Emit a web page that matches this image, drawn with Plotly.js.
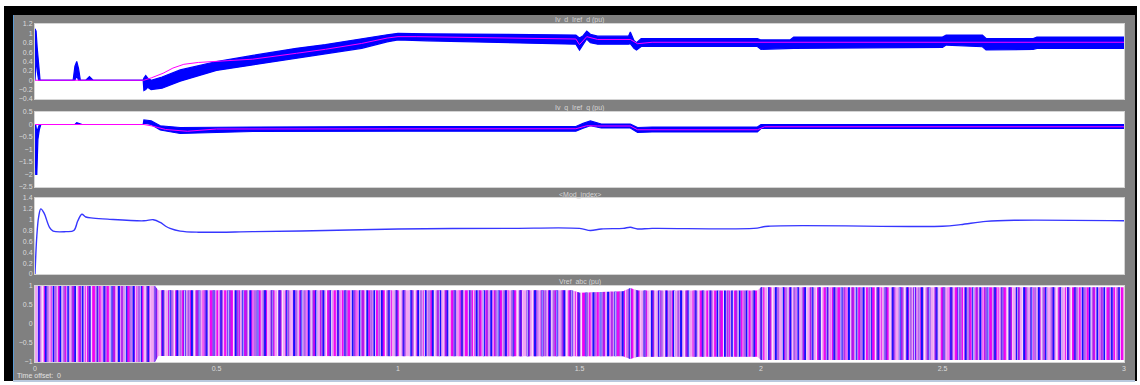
<!DOCTYPE html>
<html>
<head>
<meta charset="utf-8">
<script src="https://cdn.plot.ly/plotly-3.0.1.min.js"></script>
<style>
  html, body { margin:0; padding:0; background:#ffffff; width:1140px; height:385px; overflow:hidden; }
  #frame { position:absolute; left:4px; top:6px; width:1133px; height:375px; background:#000000; }
  #edge { position:absolute; left:13px; top:15px; width:1px; height:366px; background:#5b9bd5; }
  #bottomline { position:absolute; left:13px; top:380px; width:1122px; height:2px; background:#b9c9de; }
  #chart { position:absolute; left:14px; top:15px; width:1121px; height:365px; }
</style>
</head>
<body>
<div id="frame"></div>
<div id="edge"></div>
<div id="chart"></div>
<div id="bottomline"></div>
<script>
// ---- Panel titles ----
const panelTitles = ["Iv_d  Iref_d (pu)", "Iv_q  Iref_q (pu)", "<Mod_index>", "Vref_abc (pu)"];
const timeTicks = [0, 0.5, 1, 1.5, 2, 2.5, 3];
const timeTickLabels = ["0", "0.5", "1", "1.5", "2", "2.5", "3"];

// ---- Panel 1: Iv_d (blue band envelope) and Iref_d (magenta) ----
const ivdTime = [0, 0.003, 0.006, 0.01, 0.014, 0.105, 0.11, 0.115, 0.12, 0.125, 0.14, 0.15, 0.16, 0.298, 0.30, 0.305, 0.31, 0.32, 0.35, 0.4, 0.5, 0.6, 0.72, 0.8, 0.9, 0.97, 1.0, 1.08, 1.3, 1.49, 1.50, 1.51, 1.52, 1.53, 1.55, 1.635, 1.64, 1.65, 1.657, 1.67, 1.99, 2.0, 2.08, 2.09, 2.5, 2.51, 2.61, 2.62, 2.75, 2.76, 3.0];
const ivdHigh = [1.1, 1.05, 0.7, 0.3, 0, 0, 0.3, 0.4, 0.25, 0, 0, 0.08, 0, 0, 0.05, 0.1, 0.05, 0.0, 0.07, 0.22, 0.40, 0.53, 0.68, 0.76, 0.89, 0.97, 1.0, 0.99, 0.98, 0.965, 0.9, 0.95, 1.05, 0.98, 0.94, 0.94, 1.03, 0.85, 0.8, 0.89, 0.89, 0.86, 0.86, 0.92, 0.92, 0.965, 0.965, 0.89, 0.89, 0.92, 0.92];
const ivdLow  = [0, 0.5, 0.2, 0, 0, 0, 0, 0.1, 0, 0, 0, 0, 0, 0, -0.22, -0.2, -0.15, -0.2, -0.17, -0.02, 0.21, 0.33, 0.47, 0.56, 0.68, 0.82, 0.86, 0.84, 0.80, 0.77, 0.645, 0.75, 0.88, 0.8, 0.77, 0.77, 0.78, 0.68, 0.645, 0.72, 0.72, 0.66, 0.68, 0.68, 0.70, 0.75, 0.715, 0.645, 0.66, 0.68, 0.68];
const irefdTime = [0, 0.3, 0.32, 0.353, 0.38, 0.41, 0.45, 0.5, 0.6, 0.72, 0.8, 0.9, 0.97, 1.0, 1.05, 1.49, 1.5, 1.52, 1.55, 1.64, 1.66, 1.7, 3.0];
const irefd     = [0, 0, 0.05, 0.15, 0.26, 0.34, 0.38, 0.40, 0.45, 0.575, 0.66, 0.785, 0.9, 0.93, 0.93, 0.88, 0.76, 0.93, 0.87, 0.87, 0.78, 0.81, 0.81];

// ---- Panel 2: Iv_q (blue band envelope) and Iref_q (magenta) ----
const ivqTime = [0, 0.002, 0.005, 0.008, 0.012, 0.016, 0.11, 0.115, 0.125, 0.13, 0.298, 0.30, 0.32, 0.345, 0.4, 0.45, 0.6, 1.0, 1.49, 1.51, 1.53, 1.56, 1.64, 1.66, 1.7, 1.99, 2.0, 3.0];
const ivqHigh = [0, 0, -0.3, -0.2, 0, 0, 0, 0.07, 0.04, 0, 0, 0.18, 0.15, -0.05, -0.12, -0.12, -0.1, -0.08, -0.08, 0.05, 0.14, 0.02, 0.02, -0.12, -0.1, -0.1, 0, 0];
const ivqLow  = [0, -2.0, -2.0, -0.6, -0.2, 0, 0, 0, -0.02, 0, 0, 0.05, 0.0, -0.22, -0.36, -0.34, -0.28, -0.27, -0.27, -0.15, -0.05, -0.14, -0.14, -0.32, -0.3, -0.3, -0.16, -0.16];
const irefqTime = [0, 0.3, 0.32, 0.36, 0.42, 0.5, 1.49, 1.52, 1.55, 1.64, 1.66, 1.99, 2.01, 3.0];
const irefq     = [0, 0, -0.05, -0.2, -0.27, -0.18, -0.17, -0.05, -0.06, -0.06, -0.21, -0.21, -0.09, -0.09];

// ---- Panel 3: modulation index ----
const modTime  = [0, 0.005, 0.01, 0.016, 0.025, 0.04, 0.05, 0.085, 0.107, 0.118, 0.129, 0.14, 0.16, 0.2, 0.3, 0.326, 0.345, 0.36, 0.372, 0.4, 0.45, 0.6, 0.8, 1.0, 1.3, 1.5, 1.53, 1.56, 1.62, 1.64, 1.66, 1.7, 1.98, 2.02, 2.5, 2.55, 2.62, 2.7, 3.0];
const modIndex = [0, 0.7, 1.05, 1.2, 1.12, 0.86, 0.79, 0.78, 0.8, 0.98, 1.10, 1.05, 1.03, 1.01, 0.98, 1.0, 0.95, 0.88, 0.84, 0.79, 0.77, 0.78, 0.80, 0.83, 0.84, 0.84, 0.80, 0.83, 0.84, 0.86, 0.83, 0.84, 0.84, 0.88, 0.88, 0.91, 0.97, 0.99, 0.98];

// ---- Panel 4: Vref_abc envelope ----
const vrefTime = [0, 0.33, 0.34, 1.0, 1.48, 1.5, 1.55, 1.62, 1.64, 1.66, 1.99, 2.0, 3.0];
const vrefHigh = [1.0, 1.0, 0.89, 0.89, 0.89, 0.82, 0.83, 0.86, 0.95, 0.88, 0.88, 0.97, 0.97];
const vrefLow  = [-1.0, -1.0, -0.84, -0.85, -0.85, -0.84, -0.85, -0.85, -0.92, -0.86, -0.86, -0.95, -0.95];

const BLUE = '#0000ff', MAG = '#ff00ff';

function band(t, hi, lo, xa, ya, color, lineW, fillcolor, pattern) {
  const up = { x: t, y: hi, xaxis: xa, yaxis: ya, mode: 'lines', line: { color: color, width: lineW }, hoverinfo: 'skip', showlegend: false };
  const dn = { x: t, y: lo, xaxis: xa, yaxis: ya, mode: 'lines', line: { color: color, width: lineW }, fill: 'tonexty', fillcolor: fillcolor, hoverinfo: 'skip', showlegend: false };
  if (pattern) dn.fillpattern = pattern;
  return [up, dn];
}

const data = [
  ...band(ivdTime, ivdHigh, ivdLow, 'x', 'y', BLUE, 1.2, BLUE),
  { x: irefdTime, y: irefd, xaxis: 'x', yaxis: 'y', mode: 'lines', line: { color: MAG, width: 1 }, showlegend: false },
  ...band(ivqTime, ivqHigh, ivqLow, 'x2', 'y2', BLUE, 1.2, BLUE),
  { x: irefqTime, y: irefq, xaxis: 'x2', yaxis: 'y2', mode: 'lines', line: { color: MAG, width: 1 }, showlegend: false },
  { x: modTime, y: modIndex, xaxis: 'x3', yaxis: 'y3', mode: 'lines', line: { color: '#3636ff', width: 1.4, shape: 'spline' }, showlegend: false },
  // three-phase band: magenta stripes, blue stripes, light gaps
  ...band(vrefTime, vrefHigh, vrefLow, 'x4', 'y4', 'rgba(0,0,0,0)', 0, '#ee90ee', { shape: '|', fgcolor: '#f000f0', bgcolor: '#f2a6f2', size: 6.9, solidity: 0.4 }),
  ...band(vrefTime, vrefHigh, vrefLow, 'x4', 'y4', 'rgba(0,0,0,0)', 0, 'rgba(0,0,0,0)', { shape: '|', fgcolor: '#1212ff', bgcolor: 'rgba(0,0,0,0)', size: 7.3, solidity: 0.3 }),
  ...band(vrefTime, vrefHigh, vrefLow, 'x4', 'y4', 'rgba(0,0,0,0)', 0, 'rgba(0,0,0,0)', { shape: '|', fgcolor: 'rgba(255,255,255,0.85)', bgcolor: 'rgba(0,0,0,0)', size: 4.9, solidity: 0.18 }),
  ...band(vrefTime, vrefHigh, vrefLow, 'x4', 'y4', 'rgba(0,0,0,0)', 0, 'rgba(0,0,0,0)', { shape: '|', fgcolor: 'rgba(120,40,230,0.6)', bgcolor: 'rgba(0,0,0,0)', size: 8.3, solidity: 0.25 })
];

const tickFont = { family: 'Liberation Sans, Arial, sans-serif', size: 7, color: '#dcdcdc' };
function xax(domainAnchor, showLabels) {
  return { anchor: domainAnchor, range: [0, 3], tickvals: timeTicks, ticktext: timeTickLabels, showticklabels: showLabels,
    showgrid: false, zeroline: false, ticks: '', showline: true, mirror: true, linecolor: '#d4d4d4', linewidth: 1,
    tickfont: tickFont, automargin: false };
}
function yax(domain, range, dtick) {
  return { domain: domain, range: range, dtick: dtick, tick0: 0, showgrid: false, zeroline: false, ticks: '',
    showline: true, mirror: true, linecolor: '#d4d4d4', linewidth: 1, tickfont: tickFont, automargin: false };
}

const H = 365;
function dom(top, bottom) { return [1 - bottom / H, 1 - top / H]; }
const titleY = [5, 93, 180, 267];

const layout = {
  width: 1121, height: 365,
  margin: { l: 21, r: 11, t: 0, b: 0, pad: 0 },
  paper_bgcolor: '#808080', plot_bgcolor: '#ffffff',
  showlegend: false,
  xaxis: xax('y', false), yaxis: yax(dom(9, 84), [-0.4, 1.2], 0.2),
  xaxis2: xax('y2', false), yaxis2: yax(dom(97, 172), [-2.5, 0.5], 0.5),
  xaxis3: xax('y3', false), yaxis3: yax(dom(183, 259), [0, 1.4], 0.2),
  xaxis4: xax('y4', true), yaxis4: yax(dom(271, 347), [-1, 1], 0.5),
  annotations: panelTitles.map((t, i) => ({
    text: t, xref: 'paper', yref: 'paper', x: 0.5, y: 1 - titleY[i] / H, xanchor: 'center', yanchor: 'middle',
    showarrow: false, font: { family: 'Liberation Sans, Arial, sans-serif', size: 7, color: '#d6d6d6' }
  })).concat([{
    text: 'Time offset:  0', xref: 'paper', yref: 'paper', x: -20 / 1089, y: 1 - 360 / H, xanchor: 'left', yanchor: 'middle',
    showarrow: false, font: { family: 'Liberation Sans, Arial, sans-serif', size: 7, color: '#e0e0e0' }
  }])
};

Plotly.newPlot('chart', data, layout, { staticPlot: true, displayModeBar: false });
</script>
</body>
</html>
